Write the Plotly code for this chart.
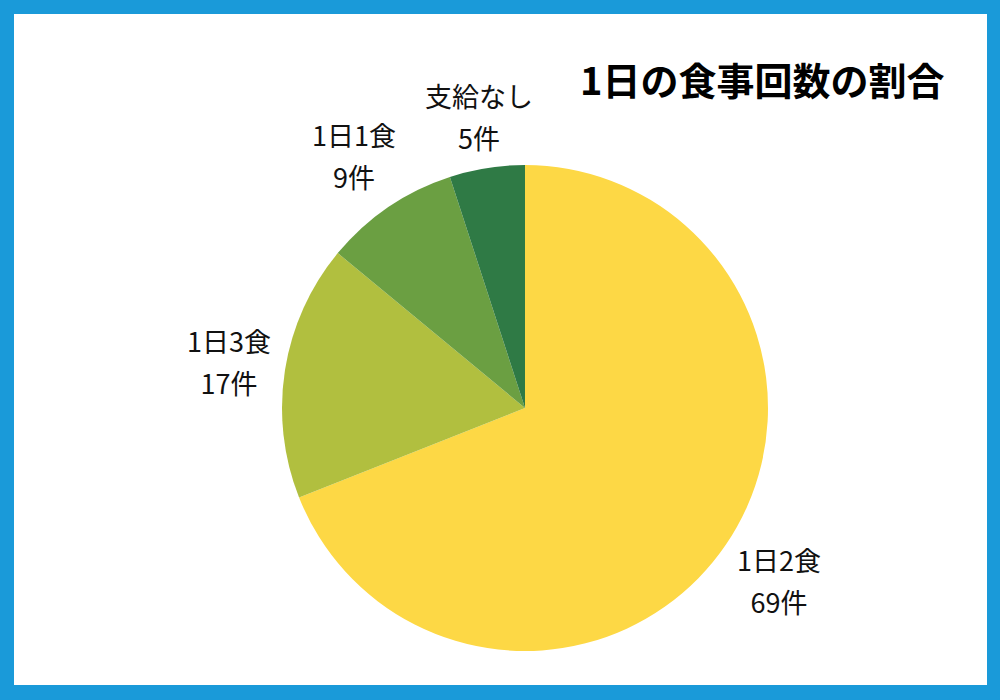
import math
import plotly.graph_objects as go

labels = ["1日2食", "1日3食", "1日1食", "支給なし"]
values = [69, 17, 9, 5]
colors = ["#FDD845", "#B1BF3F", "#6B9F42", "#2F7A45"]
title_text = "1日の食事回数の割合"
unit = "件"

W, H = 1000, 700
CX, CY, R = 525, 408, 243  # pie center / radius in pixels
FS = 27

fig = go.Figure()
fig.add_trace(go.Pie(
    labels=labels,
    values=values,
    sort=False,
    direction="clockwise",
    rotation=0,
    marker=dict(colors=colors, line=dict(width=0)),
    textinfo="none",
    showlegend=False,
    hoverinfo="label+value",
    domain=dict(x=[(CX - R) / W, (CX + R) / W], y=[(H - CY - R) / H, (H - CY + R) / H]),
))

# outside labels placed around the slice mid-angles (derived from the values)
total = sum(values)
cum = 0
for lab, v in zip(labels, values):
    mid = (cum + v / 2) / total * 2 * math.pi
    cum += v
    ux, uy = math.sin(mid), -math.cos(mid)
    n_cjk = sum(1 for ch in lab if ord(ch) > 255)
    n_asc = len(lab) - n_cjk
    hw = (n_cjk * FS + n_asc * FS * 0.56) / 2
    hh = 34
    support = hw * abs(ux) + hh * abs(uy)
    d = R + 10 + support
    px, py = CX + ux * d, CY + uy * d
    fig.add_annotation(
        text=f"<span style='font-size:{FS}px'>{lab}</span><br>"
             f"<span style='font-size:{FS}px'>{v}{unit}</span>",
        x=px / W, y=1 - py / H, xref="paper", yref="paper",
        xanchor="center", yanchor="middle", showarrow=False,
        font=dict(family="Noto Sans CJK JP", size=32, color="#111111"),
    )

fig.add_annotation(
    text="<b>" + title_text + "</b>",
    x=762 / W, y=1 - 78 / H, xref="paper", yref="paper",
    xanchor="center", yanchor="middle", showarrow=False,
    font=dict(family="Noto Sans CJK JP", size=38, color="#000000"),
)

fig.add_shape(type="rect", xref="paper", yref="paper",
              x0=14 / W, x1=987 / W, y0=1 - 685 / H, y1=1 - 14 / H,
              fillcolor="white", line=dict(width=0), layer="below")

fig.update_layout(
    width=W, height=H,
    margin=dict(l=0, r=0, t=0, b=0),
    paper_bgcolor="#1A9AD9",
    plot_bgcolor="white",
)
fig.write_html("out.html")
